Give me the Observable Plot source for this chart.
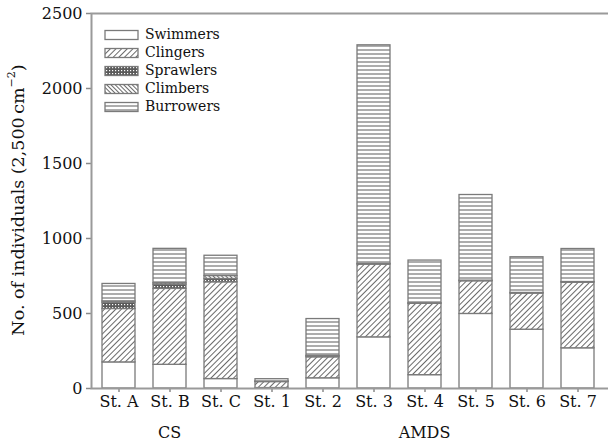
<!DOCTYPE html>
<html><head><meta charset="utf-8">
<script src="https://cdn.jsdelivr.net/npm/d3@7"></script>
<script src="https://cdn.jsdelivr.net/npm/@observablehq/plot@0.6"></script>
<style>
body{margin:0;background:#fff;}
#chart svg{font-family:"DejaVu Serif",serif;}
</style></head><body><div id="chart"></div>
<script>
const stations = ["St. A","St. B","St. C","St. 1","St. 2","St. 3","St. 4","St. 5","St. 6","St. 7"];
const seriesNames = ["Swimmers","Clingers","Sprawlers","Climbers","Burrowers"];
const swimmers  = [174,158, 63, 3, 68, 341, 89,497,392,268];
const clingers  = [356,506,645,40,140, 485,476,218,241,438];
const sprawlers = [ 42, 28, 22, 2,  6,   5,  3,  4,  4,  4];
const climbers  = [  9, 10, 20, 2,  4,   0,  0,  0,  0,  0];
const burrowers = [116,229,135,15,245,1457,285,571,238,220];
const yTicks = [0,500,1000,1500,2000,2500];
const groupLabels = ["CS","AMDS"];
const groupMembers = [["St. B"],["St. 1","St. 7"]];
const yTitle = "No. of individuals (2,500\u2009cm";
const yTitleSup = "\u22122";

const seriesValues = [swimmers, clingers, sprawlers, climbers, burrowers];
const data = [];
stations.forEach((s,i)=>seriesNames.forEach((n,j)=>data.push({station:s, series:n, value:seriesValues[j][i]})));

const plot = Plot.plot({
  width:608, height:445,
  marginLeft:91, marginRight:3, marginTop:13, marginBottom:57,
  style:{fontFamily:"DejaVu Serif", fontSize:"16px", color:"#111", background:"#fff"},
  x:{domain:stations, paddingInner:0.36, paddingOuter:0.18, label:null, tickSize:4, tickPadding:3},
  y:{domain:[0,2500], ticks:yTicks, label:null, tickSize:5, tickPadding:4, tickFormat:d=>String(d)},
  color:{domain:seriesNames, range:seriesNames.map(n=>`url(#pat-${n})`)},
  marks:[
    Plot.barY(data,{x:"station", y:"value", fill:"series", stroke:"#7a7a7a", strokeWidth:1.3}),
    Plot.frame({stroke:"#9a9a9a", strokeWidth:2, insetRight:-10})
  ]
});

const svg = d3.select(plot);
const defs = svg.insert("defs",":first-child");
function pat(id, size, transform){
  const p = defs.append("pattern").attr("id","pat-"+id).attr("patternUnits","userSpaceOnUse")
    .attr("width",size[0]).attr("height",size[1]);
  if (transform) p.attr("patternTransform",transform);
  p.append("rect").attr("width",size[0]).attr("height",size[1]).attr("fill","#fff");
  return p;
}
pat("Swimmers",[4,4]);
pat("Clingers",[4,4],"rotate(45)").append("line").attr("x1",0.5).attr("x2",0.5).attr("y1",0).attr("y2",4).attr("stroke","#6a6a6a").attr("stroke-width",1);
const sp = pat("Sprawlers",[3,3]);
sp.select("rect").attr("fill","#5a5a5a");
sp.append("rect").attr("x",1).attr("y",1).attr("width",1.2).attr("height",1.2).attr("fill","#fff");
pat("Climbers",[3,3],"rotate(-45)").append("line").attr("x1",0.5).attr("x2",0.5).attr("y1",0).attr("y2",3).attr("stroke","#6a6a6a").attr("stroke-width",1);
pat("Burrowers",[4,4]).append("line").attr("x1",0).attr("x2",4).attr("y1",2).attr("y2",2).attr("stroke","#808080").attr("stroke-width",1.3);

svg.selectAll("[aria-label='x-axis tick'], [aria-label='y-axis tick']").attr("stroke","#8a8a8a").attr("stroke-width",1.5);

// y title
const yt = svg.append("text").attr("transform","translate(19,200) rotate(-90)")
  .attr("text-anchor","middle").attr("font-size",17.5).attr("fill","#111").attr("dominant-baseline","middle");
yt.append("tspan").text(yTitle);
yt.append("tspan").attr("dy",-7).attr("font-size",11).text(yTitleSup);
yt.append("tspan").attr("dy",7).text(")");

// group labels
const xs = plot.scale("x");
const bw = xs.bandwidth;
groupLabels.forEach((g,i)=>{
  const cs = groupMembers[i].map(s=>xs.apply(s)+bw/2);
  svg.append("text").attr("x",d3.mean(cs)).attr("y",433).attr("text-anchor","middle")
    .attr("dominant-baseline","middle").attr("font-size",16).attr("fill","#111").text(g);
});

// legend
const lg = svg.append("g").attr("text-anchor","start");
seriesNames.forEach((n,i)=>{
  const cy = 35 + i*18;
  lg.append("rect").attr("x",105).attr("y",cy-4.5).attr("width",33).attr("height",9)
    .attr("fill",`url(#pat-${n})`).attr("stroke","#7a7a7a").attr("stroke-width",1.3);
  lg.append("text").attr("x",145).attr("y",cy).attr("text-anchor","start").attr("dominant-baseline","middle")
    .attr("font-size",14).attr("fill","#111").text(n);
});

document.getElementById("chart").appendChild(plot);
</script></body></html>
